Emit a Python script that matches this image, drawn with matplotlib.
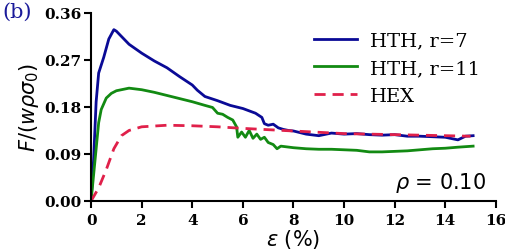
import matplotlib
matplotlib.use('Agg')
import matplotlib.pyplot as plt

# HTH, r=7
strain_r7 = [0, 0.1, 0.2, 0.3, 0.5, 0.7, 0.9, 1.0, 1.5, 2.0, 2.5, 3.0, 3.5, 4.0, 4.2, 4.5,
             5.0, 5.5, 6.0, 6.5, 6.75, 6.85, 7.0, 7.2, 7.4, 7.6, 7.8, 8.0, 8.5, 9.0, 9.5,
             10.0, 10.5, 11.0, 11.5, 12.0, 12.5, 13.0, 13.5, 14.0, 14.5, 14.8, 15.1]
force_r7 = [0, 0.08, 0.19, 0.245, 0.275, 0.31, 0.328, 0.325, 0.30, 0.283, 0.268, 0.255, 0.238,
            0.222, 0.212, 0.200, 0.192, 0.183, 0.177, 0.168, 0.160, 0.148, 0.145, 0.147, 0.140,
            0.137, 0.135, 0.134, 0.128, 0.125, 0.130, 0.128, 0.129, 0.127, 0.126, 0.127, 0.124,
            0.124, 0.123, 0.122, 0.117, 0.124, 0.125]

# HTH, r=11
strain_r11 = [0, 0.1, 0.2, 0.3, 0.4, 0.6, 0.8, 1.0, 1.5, 2.0, 2.5, 3.0, 3.5, 4.0, 4.5, 4.8,
              5.0, 5.2, 5.4, 5.6, 5.75, 5.8, 5.95, 6.1, 6.25, 6.4, 6.55, 6.7, 6.85, 7.0, 7.2,
              7.35, 7.5, 8.0, 8.5, 9.0, 9.5, 10.0, 10.5, 11.0, 11.5, 12.0, 12.5, 13.0, 13.5,
              14.0, 14.5, 15.1]
force_r11 = [0, 0.05, 0.10, 0.15, 0.175, 0.197, 0.206, 0.211, 0.216, 0.213, 0.208, 0.202, 0.196,
             0.190, 0.183, 0.179, 0.168, 0.166, 0.160, 0.155, 0.142, 0.122, 0.132, 0.122, 0.135,
             0.120, 0.128, 0.118, 0.122, 0.112, 0.108, 0.100, 0.105, 0.102, 0.100, 0.099, 0.099,
             0.098, 0.097, 0.094, 0.094, 0.095, 0.096, 0.098, 0.100, 0.101, 0.103, 0.105]

# HEX
strain_hex = [0, 0.3, 0.6, 0.9, 1.2, 1.5, 2.0, 3.0, 4.0, 5.0, 6.0, 8.0, 10.0, 12.0, 14.0, 15.0]
force_hex = [0, 0.025, 0.06, 0.10, 0.125, 0.135, 0.142, 0.145, 0.144, 0.142, 0.139, 0.134,
             0.129, 0.127, 0.125, 0.124]

x_ticks = [0, 2, 4, 6, 8, 10, 12, 14, 16]
y_ticks = [0.00, 0.09, 0.18, 0.27, 0.36]

fig = plt.figure(figsize=(5.06, 2.53), dpi=100)
ax = fig.add_axes([0.18, 0.2016, 0.80, 0.7434])

ax.plot(strain_r7, force_r7, color='#0a0a96', lw=2, label='HTH, r=7')
ax.plot(strain_r11, force_r11, color='#128a12', lw=2, label='HTH, r=11')
ax.plot(strain_hex, force_hex, color='#e0204a', lw=2, ls=(0, (4, 2.5)), label='HEX')

ax.set_xlim(0, 16)
ax.set_ylim(0, 0.36)
ax.set_xticks(x_ticks)
ax.set_yticks(y_ticks)
ax.set_xticklabels([str(t) for t in x_ticks], family='DejaVu Serif', weight='bold', fontsize=11)
ax.set_yticklabels([f'{t:.2f}' for t in y_ticks], family='DejaVu Serif', weight='bold', fontsize=11)
ax.tick_params(axis='x', direction='out', length=5, width=1.5, pad=4)
ax.tick_params(axis='y', direction='out', length=5, width=1.5, pad=2)

for s in ['top', 'right']:
    ax.spines[s].set_visible(False)
for s in ['left', 'bottom']:
    ax.spines[s].set_linewidth(1.5)

ax.set_ylabel(r'$F/(w\rho\sigma_0)$', fontsize=15, labelpad=2)
ax.set_xlabel(r'$\varepsilon$ (%)', fontsize=15, labelpad=0)

ax.legend(loc='upper right', bbox_to_anchor=(1.005, 0.995), frameon=False,
          prop={'family': 'DejaVu Serif', 'size': 14}, handlelength=2.2,
          labelspacing=0.5, handletextpad=0.7)

ax.text(0.975, 0.10, r'$\rho$ = 0.10', transform=ax.transAxes, ha='right', va='center', fontsize=15)
fig.text(0.004, 0.952, '(b)', color='#1a1a9a', family='DejaVu Serif', fontsize=15, va='center')

fig.savefig('out.png', dpi=100)
